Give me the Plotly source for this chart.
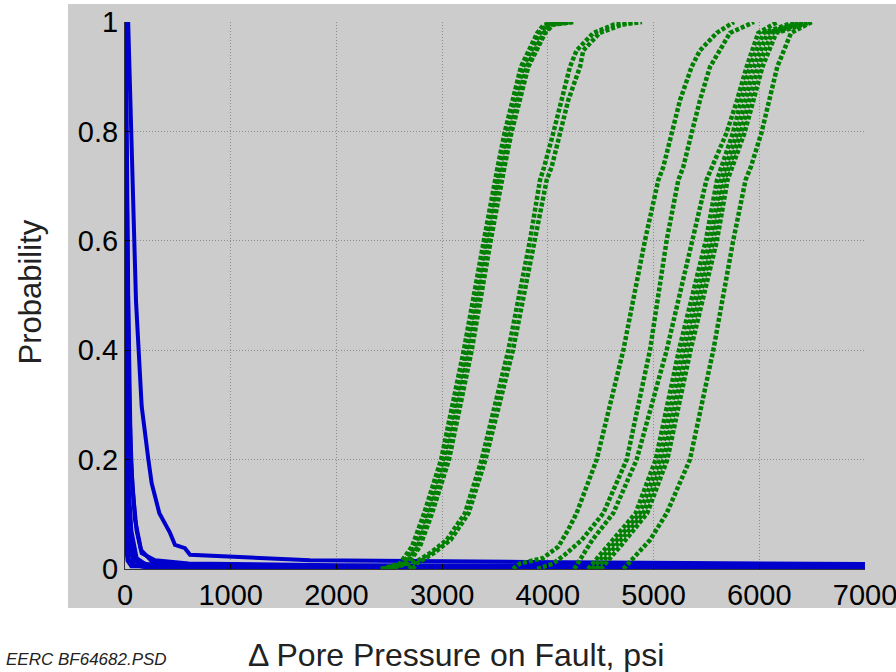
import plotly.graph_objects as go

# blue exceedance curves (psi, probability)
blue_x = [
    [0, 30, 104, 126, 158, 221, 252, 325, 378, 426, 473, 567, 615, 1000, 1750, 3800, 7000],
    [0, 12, 30, 55, 95, 158, 284, 600, 2000, 7000],
    [0, 8, 20, 35, 60, 110, 200, 500, 7000],
    [0, 5, 15, 30, 50, 90, 170, 400, 7000],
    [0, 3, 10, 20, 40, 80, 250, 7000],
    [0, 2, 6, 15, 30, 70, 200, 7000],
    [0, 1, 4, 10, 25, 60, 7000],
    [0, 20, 40, 70, 110, 150, 265, 1000, 7000],
]
blue_p = [
    [1.0, 1.0, 0.49, 0.40, 0.297, 0.2, 0.157, 0.102, 0.084, 0.066, 0.044, 0.038, 0.026, 0.022, 0.016, 0.013, 0.009],
    [1.0, 0.9, 0.5, 0.2, 0.09, 0.029, 0.016, 0.01, 0.007, 0.005],
    [1.0, 0.7, 0.35, 0.15, 0.07, 0.02, 0.008, 0.005, 0.003],
    [1.0, 0.6, 0.3, 0.12, 0.05, 0.02, 0.01, 0.004, 0.002],
    [1.0, 0.5, 0.2, 0.09, 0.04, 0.015, 0.005, 0.001],
    [1.0, 0.4, 0.15, 0.06, 0.02, 0.008, 0.003, 0.001],
    [1.0, 0.3, 0.1, 0.04, 0.015, 0.005, 0.0],
    [1.0, 0.6, 0.3, 0.15, 0.07, 0.035, 0.012, 0.006, 0.004],
]

# green cumulative curves (psi, probability)
green_x = [
    [2440, 2630, 2743, 2854, 3011, 3232, 3415, 3516, 3547, 3610, 3689, 3767, 3926, 3989, 4209],
    [2470, 2655, 2770, 2880, 3040, 3255, 3440, 3540, 3575, 3640, 3715, 3800, 3960, 4030, 4230],
    [2420, 2600, 2715, 2830, 2990, 3205, 3395, 3495, 3525, 3590, 3665, 3745, 3900, 3960, 4180],
    [2490, 2680, 2790, 2905, 3065, 3280, 3460, 3560, 3590, 3655, 3730, 3815, 3975, 4050, 4240],
    [2690, 2724, 2885, 3043, 3216, 3374, 3626, 3831, 3926, 3965, 4051, 4130, 4209, 4272, 4430, 4620, 4830],
    [2720, 2760, 2920, 3080, 3250, 3410, 3670, 3880, 3989, 4036, 4114, 4193, 4304, 4335, 4490, 4700, 4890],
    [3670, 3737, 3954, 4100, 4190, 4272, 4462, 4714, 4919, 5045, 5092, 5171, 5250, 5360, 5439, 5597, 5760],
    [3900, 4050, 4160, 4320, 4525, 4746, 4966, 5124, 5234, 5281, 5360, 5439, 5534, 5723, 5950],
    [4250, 4420, 4619, 4840, 5124, 5360, 5500, 5690, 5790, 5880, 5990, 6170],
    [4380, 4590, 4830, 5020, 5240, 5495, 5600, 5750, 5830, 5910, 6040, 6330],
    [4420, 4630, 4870, 5060, 5280, 5535, 5640, 5790, 5870, 5950, 6080, 6400],
    [4460, 4670, 4905, 5095, 5315, 5565, 5670, 5825, 5905, 5990, 6120, 6450],
    [4500, 4710, 4940, 5130, 5350, 5600, 5700, 5860, 5945, 6030, 6160, 6495],
    [4714, 4760, 4966, 5124, 5344, 5565, 5754, 5870, 5920, 6020, 6090, 6170, 6300, 6495],
]
green_p = [
    [0.0, 0.01, 0.041, 0.102, 0.2, 0.4, 0.601, 0.711, 0.735, 0.797, 0.857, 0.918, 0.98, 0.995, 1.0],
    [0.0, 0.01, 0.041, 0.102, 0.2, 0.4, 0.601, 0.711, 0.735, 0.797, 0.857, 0.918, 0.98, 0.995, 1.0],
    [0.0, 0.01, 0.041, 0.102, 0.2, 0.4, 0.601, 0.711, 0.735, 0.797, 0.857, 0.918, 0.98, 0.995, 1.0],
    [0.0, 0.01, 0.041, 0.102, 0.2, 0.4, 0.601, 0.711, 0.735, 0.797, 0.857, 0.918, 0.98, 0.995, 1.0],
    [0.0, 0.01, 0.029, 0.053, 0.102, 0.2, 0.4, 0.601, 0.711, 0.735, 0.797, 0.857, 0.918, 0.948, 0.98, 0.995, 1.0],
    [0.0, 0.01, 0.029, 0.053, 0.102, 0.2, 0.4, 0.601, 0.711, 0.735, 0.797, 0.857, 0.918, 0.948, 0.98, 0.995, 1.0],
    [0.0, 0.01, 0.02, 0.041, 0.071, 0.102, 0.2, 0.4, 0.601, 0.711, 0.735, 0.797, 0.857, 0.918, 0.948, 0.98, 1.0],
    [0.0, 0.01, 0.026, 0.053, 0.102, 0.2, 0.4, 0.601, 0.711, 0.735, 0.797, 0.857, 0.918, 0.98, 1.0],
    [0.0, 0.053, 0.102, 0.2, 0.4, 0.601, 0.711, 0.797, 0.857, 0.918, 0.98, 1.0],
    [0.0, 0.047, 0.102, 0.2, 0.4, 0.601, 0.711, 0.797, 0.857, 0.918, 0.98, 1.0],
    [0.0, 0.047, 0.102, 0.2, 0.4, 0.601, 0.711, 0.797, 0.857, 0.918, 0.98, 1.0],
    [0.0, 0.047, 0.102, 0.2, 0.4, 0.601, 0.711, 0.797, 0.857, 0.918, 0.98, 1.0],
    [0.0, 0.047, 0.102, 0.2, 0.4, 0.601, 0.711, 0.797, 0.857, 0.918, 0.98, 1.0],
    [0.0, 0.01, 0.053, 0.102, 0.2, 0.4, 0.601, 0.711, 0.735, 0.797, 0.857, 0.918, 0.98, 1.0],
]

x_ticks = [0, 1000, 2000, 3000, 4000, 5000, 6000, 7000]
y_ticks = [0, 0.2, 0.4, 0.6, 0.8, 1]
y_tick_text = ["0", "0.2", "0.4", "0.6", "0.8", "1"]

FONT = "Arial, Liberation Sans, sans-serif"
BG = "#cccccc"

fig = go.Figure()

for xs, ps in zip(blue_x, blue_p):
    fig.add_trace(go.Scatter(x=xs, y=ps, mode="lines",
                             line=dict(color="#0000cc", width=4)))

for xs, ps in zip(green_x, green_p):
    fig.add_trace(go.Scatter(x=xs, y=ps, mode="lines",
                             line=dict(color="#008000", width=4.5, dash="4px,2px")))

# grey panel behind the axes
fig.add_shape(type="rect", xref="paper", yref="paper",
              x0=-0.077, x1=1.05, y0=-0.0713, y1=1.033,
              fillcolor=BG, line_width=0, layer="below")

fig.update_layout(
    width=896, height=672,
    margin=dict(l=125, r=31, t=22, b=103, autoexpand=False),
    paper_bgcolor="white", plot_bgcolor=BG,
    showlegend=False,
    font=dict(family=FONT, size=29, color="black"),
)
fig.update_xaxes(
    range=[0, 7000], tickvals=x_ticks, showgrid=True,
    gridcolor="#8c8c8c", griddash="1px,2px", gridwidth=1,
    showline=True, linecolor="#333333", linewidth=1,
    ticks="inside", ticklen=5, tickcolor="black",
    zeroline=False, ticklabelstandoff=0, automargin=False,
    ticklabeloverflow="allow",
)
fig.update_yaxes(
    range=[0, 1], tickvals=y_ticks, ticktext=y_tick_text, showgrid=True,
    gridcolor="#8c8c8c", griddash="1px,2px", gridwidth=1,
    showline=True, linecolor="#333333", linewidth=1,
    ticks="inside", ticklen=5, tickcolor="black",
    zeroline=False, ticklabelstandoff=0, automargin=False,
    ticklabeloverflow="allow",
)

fig.add_annotation(text="Probability", xref="paper", yref="paper",
                   x=-0.128, y=0.506, xanchor="center", yanchor="middle",
                   textangle=-90, showarrow=False,
                   font=dict(size=31, color="#222222"))
fig.add_annotation(text="Δ Pore Pressure on Fault, psi", xref="paper", yref="paper",
                   x=0.447, y=-0.157, xanchor="center", yanchor="middle",
                   showarrow=False, font=dict(size=32, color="#222222"))
fig.add_annotation(text="<i>EERC BF64682.PSD</i>", xref="paper", yref="paper",
                   x=-0.1635, y=-0.166, xanchor="left", yanchor="middle",
                   showarrow=False, font=dict(size=17, color="#222222"))

# drop the browser's default 8px body margin so the figure sits at the page origin
fig.write_html("out.html", config={"displayModeBar": False},
               post_script="document.body.style.margin='0';")
